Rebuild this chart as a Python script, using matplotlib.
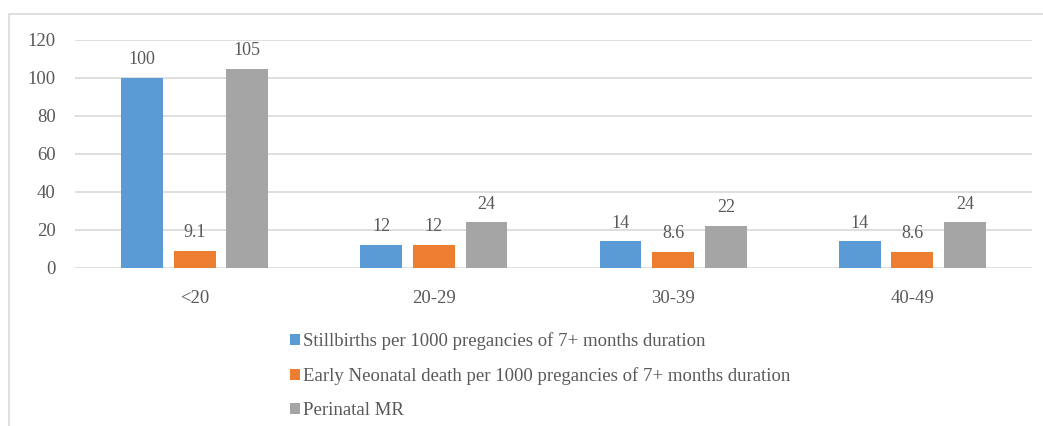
import numpy as np
import matplotlib.pyplot as plt
from matplotlib.patches import Rectangle

plt.rcParams['font.family'] = 'serif'
plt.rcParams['font.serif'] = ['Liberation Serif', 'Times New Roman', 'DejaVu Serif']

age_groups = ['<20', '20-29', '30-39', '40-49']
stillbirths = [100, 12, 14, 14]
early_neonatal = [9.1, 12, 8.6, 8.6]
perinatal_mr = [105, 24, 22, 24]
value_labels = [
    ['100', '12', '14', '14'],
    ['9.1', '12', '8.6', '8.6'],
    ['105', '24', '22', '24'],
]
series_names = [
    'Stillbirths per 1000 pregancies of 7+ months duration',
    'Early Neonatal death per 1000 pregancies of 7+ months duration',
    'Perinatal MR',
]
colors = ['#5b9bd5', '#ed7d31', '#a5a5a5']
text_color = '#595959'
grid_color = '#d9d9d9'

fig = plt.figure(figsize=(10.43, 4.26), dpi=100)
# outer chart frame (only left and top edges fall inside the image)
fig.patches.append(Rectangle((9 / 1043, -0.1), 1.2, 1 - 14 / 426 + 0.1,
                             transform=fig.transFigure, fill=False,
                             edgecolor=grid_color, linewidth=1.2))

ax = fig.add_axes([75 / 1043, 1 - 268 / 426, (1032 - 75) / 1043, (268 - 40) / 426])

x = np.arange(len(age_groups))
width = 0.175
step = 0.22
handles = []
for i, (vals, name) in enumerate(zip([stillbirths, early_neonatal, perinatal_mr], series_names)):
    bars = ax.bar(x + (i - 1) * step, vals, width, color=colors[i], label=name, zorder=3)
    handles.append(bars)
    for b, lab in zip(bars, value_labels[i]):
        ax.annotate(lab, (b.get_x() + b.get_width() / 2, b.get_height()),
                    xytext=(0, 7), textcoords='offset points',
                    ha='center', va='bottom', fontsize=13, color=text_color)

ax.set_xlim(-0.5, len(age_groups) - 0.5)
ax.set_ylim(0, 120)
ax.set_yticks(range(0, 121, 20))
ax.set_xticks(x)
ax.set_xticklabels(age_groups)
ax.tick_params(axis='both', length=0, labelsize=13.5, labelcolor=text_color)
ax.tick_params(axis='x', pad=16)
ax.tick_params(axis='y', pad=14)
ax.grid(axis='y', color=grid_color, linewidth=1.2, zorder=0)
for s in ax.spines.values():
    s.set_visible(False)

leg = fig.legend(handles=handles, loc='upper left', bbox_to_anchor=(282 / 1043, 1 - 325 / 426),
                 frameon=False, fontsize=13.5, handlelength=0.55, handleheight=0.55,
                 handletextpad=0.15, labelspacing=0.9, borderaxespad=0)
for t in leg.get_texts():
    t.set_color(text_color)

fig.savefig('out.png', dpi=100)
